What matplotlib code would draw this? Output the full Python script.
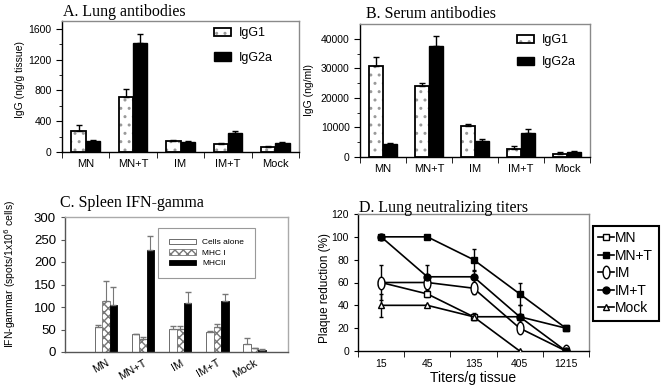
import matplotlib
matplotlib.use('Agg')
import matplotlib.pyplot as plt
import numpy as np
from matplotlib.patches import Patch
from matplotlib.path import Path

plt.rcParams['font.family'] = ['Liberation Sans', 'DejaVu Sans']

# ---- data ----
groups = ['MN', 'MN+T', 'IM', 'IM+T', 'Mock']

lung_igg1 = [275, 710, 140, 100, 65]
lung_igg1_err = [80, 110, 15, 15, 10]
lung_igg2a = [140, 1420, 130, 250, 115]
lung_igg2a_err = [10, 115, 15, 25, 10]

serum_igg1 = [30900, 24000, 10400, 2700, 1000]
serum_igg1_err = [2900, 1100, 900, 1000, 700]
serum_igg2a = [4400, 37700, 5300, 8000, 1800]
serum_igg2a_err = [400, 3400, 700, 1400, 200]

spleen_cells = [56, 39, 51, 44, 18]
spleen_cells_err = [5, 1, 7, 2, 14]
spleen_mhc1 = [114, 30, 51, 55, 8]
spleen_mhc1_err = [43, 4, 7, 7, 2]
spleen_mhc2 = [105, 226, 109, 113, 5]
spleen_mhc2_err = [39, 31, 25, 16, 1]

titers = ['15', '45', '135', '405', '1215']
neut_mn = [60, 50, 30, 30, 20]
neut_mn_err = [0, 3, 3, 0, 0]
neut_mnt = [100, 100, 80, 50, 20]
neut_mnt_err = [0, 0, 9, 10, 0]
neut_im = [60, 60, 55, 20, 0]
neut_im_err = [15, 5, 5, 0, 0]
neut_imt = [100, 65, 65, 30, 0]
neut_imt_err = [0, 10, 5, 10, 0]
neut_mock = [40, 40, 30, 0, np.nan]
neut_mock_err = [10, 0, 0, 0, 0]

W, H = 661, 392
fig = plt.figure(figsize=(W / 100, H / 100), dpi=100)


def rect(left, right, top, bottom):
    return [left / W, 1 - bottom / H, (right - left) / W, (bottom - top) / H]


def frame(ax, dark='black', light='#8a8a8a'):
    for s in ['left', 'bottom']:
        ax.spines[s].set_color(dark)
        ax.spines[s].set_linewidth(1.0)
    for s in ['top', 'right']:
        ax.spines[s].set_color(light)
        ax.spines[s].set_linewidth(1.0)


def title(ax, txt, x, y):
    ax.text(x, y, txt, transform=ax.transAxes, family='Liberation Serif',
            fontsize=11.5, va='baseline', ha='left')


def antibody_panel(ax, v1, e1, v2, e2, ymax, major, minor, ylabel):
    x = np.arange(len(groups))
    w = 0.3
    ax.bar(x - w / 2, v1, w, color='white', edgecolor='#9a9a9a', hatch='..', linewidth=0)
    ax.bar(x - w / 2, v1, w, fill=False, edgecolor='black', linewidth=1.3)
    ax.bar(x + w / 2, v2, w, color='black', edgecolor='black', linewidth=1)
    ax.errorbar(x - w / 2, v1, yerr=[np.zeros(len(v1)), e1], fmt='none',
                ecolor='black', elinewidth=1, capsize=2)
    ax.errorbar(x + w / 2, v2, yerr=[np.zeros(len(v2)), e2], fmt='none',
                ecolor='black', elinewidth=1, capsize=2)
    ax.set_xlim(-0.5, 4.5)
    ax.set_ylim(0, ymax)
    ax.set_yticks(np.arange(0, ymax, major))
    ax.set_yticks(np.arange(0, ymax, minor), minor=True)
    ax.set_xticks(x)
    ax.set_xticklabels(groups, fontsize=8)
    ax.set_xticks(np.arange(-0.5, 5, 1), minor=True)
    ax.tick_params(axis='x', which='major', length=0, pad=5)
    ax.tick_params(axis='x', which='minor', length=4, direction='out')
    ax.tick_params(axis='y', which='major', length=4, labelsize=7.5)
    ax.tick_params(axis='y', which='minor', length=2.5)
    ax.set_ylabel(ylabel, fontsize=7.5)
    frame(ax)
    h1 = (Patch(facecolor='white', edgecolor='#9a9a9a', hatch='..', linewidth=0),
          Patch(fill=False, edgecolor='black', linewidth=1.3))
    h2 = Patch(facecolor='black', edgecolor='black')
    return [h1, h2]


# ---- A. Lung antibodies ----
axA = fig.add_axes(rect(62, 299, 21, 152))
hA = antibody_panel(axA, lung_igg1, lung_igg1_err, lung_igg2a, lung_igg2a_err,
                    1700, 400, 200, 'IgG (ng/g tissue)')
axA.yaxis.set_label_coords(-0.155, 0.55)
axA.legend(hA, ['IgG1', 'IgG2a'], loc='upper left', bbox_to_anchor=(0.62, 0.99),
           frameon=False, fontsize=9, handlelength=1.4, handleheight=0.7,
           labelspacing=1.0, handletextpad=0.6, borderaxespad=0)
title(axA, 'A. Lung antibodies', 0.004, 1.04)

# ---- B. Serum antibodies ----
axB = fig.add_axes(rect(360, 590, 24, 157))
hB = antibody_panel(axB, serum_igg1, serum_igg1_err, serum_igg2a, serum_igg2a_err,
                    45000, 10000, 5000, 'IgG (ng/ml)')
axB.yaxis.set_label_coords(-0.2, 0.5)
axB.legend(hB, ['IgG1', 'IgG2a'], loc='upper left', bbox_to_anchor=(0.66, 0.96),
           frameon=False, fontsize=9, handlelength=1.4, handleheight=0.7,
           labelspacing=0.8, handletextpad=0.6, borderaxespad=0)
title(axB, 'B. Serum antibodies', 0.026, 1.045)

# ---- C. Spleen IFN-gamma ----
axC = fig.add_axes(rect(65, 288, 217, 352))
x = np.arange(len(groups))
w = 0.2
axC.bar(x - w, spleen_cells, w, color='white', edgecolor='#555555', linewidth=0.6,
        label='Cells alone')
axC.bar(x, spleen_mhc1, w, color='white', edgecolor='#777777', hatch='xxxx',
        linewidth=0.6, label='MHC I')
axC.bar(x + w, spleen_mhc2, w, color='black', edgecolor='black', linewidth=0.6,
        label='MHCII')
for off, vals, errs in [(-w, spleen_cells, spleen_cells_err),
                        (0, spleen_mhc1, spleen_mhc1_err),
                        (w, spleen_mhc2, spleen_mhc2_err)]:
    axC.errorbar(x + off, vals, yerr=[np.zeros(len(vals)), errs], fmt='none',
                 ecolor='#777777', elinewidth=0.8, capsize=2)
axC.set_xlim(-1.1, 4.9)
axC.set_ylim(0, 300)
axC.set_yticks(np.arange(0, 301, 50))
axC.set_xticks(x)
axC.set_xticklabels(groups, rotation=30, ha='right', rotation_mode='anchor', fontsize=8)
axC.tick_params(axis='x', length=0, pad=4)
axC.tick_params(axis='y', length=3, labelsize=9.5, color='#555555')
axC.set_ylabel('IFN-gammar (spots/1x10$^6$ cells)', fontsize=7.5)
axC.yaxis.set_label_coords(-0.21, 0.58)
frame(axC, dark='#555555', light='#aaaaaa')
legC = axC.legend(loc='upper right', bbox_to_anchor=(0.852, 0.918), fontsize=6,
                  handlelength=3.2, handleheight=0.6, labelspacing=0.35,
                  borderpad=1.3, borderaxespad=0, fancybox=False, framealpha=1)
legC.get_frame().set_edgecolor('#999999')
legC.get_frame().set_linewidth(0.8)
title(axC, 'C. Spleen IFN-gamma', -0.022, 1.074)

# ---- D. Lung neutralizing titers ----
axD = fig.add_axes(rect(358, 589, 214, 351))
xt = np.arange(len(titers))
circ = Path.unit_circle()
ellipse = Path(circ.vertices * np.array([0.55, 1.0]), circ.codes)
series = [
    ('MN', neut_mn, neut_mn_err, dict(marker='s', mfc='white', ms=5)),
    ('MN+T', neut_mnt, neut_mnt_err, dict(marker='s', mfc='black', ms=5)),
    ('IM', neut_im, neut_im_err, dict(marker=ellipse, mfc='white', ms=9)),
    ('IM+T', neut_imt, neut_imt_err, dict(marker='o', mfc='black', ms=5)),
    ('Mock', neut_mock, neut_mock_err, dict(marker='^', mfc='white', ms=5)),
]
for name, vals, errs, st in series:
    axD.errorbar(xt, vals, yerr=errs, fmt='none', ecolor='black', elinewidth=1,
                 capsize=1.5, zorder=2)
    axD.plot(xt, vals, color='black', lw=1.2, mec='black', mew=1.0, label=name,
             zorder=3, **st)
axD.set_xlim(-0.5, 4.5)
axD.set_ylim(0, 120)
axD.set_yticks(np.arange(0, 121, 20))
axD.set_xticks(xt)
axD.set_xticklabels(titers, fontsize=7.5)
axD.set_xticks(np.arange(-0.5, 5, 1), minor=True)
axD.tick_params(axis='x', which='major', length=0, pad=6)
axD.tick_params(axis='x', which='minor', length=4)
axD.tick_params(axis='y', length=3, labelsize=7.5)
axD.set_xlabel('Titers/g tissue', fontsize=10, labelpad=1)
axD.set_ylabel('Plaque reduction (%)', fontsize=8.5)
axD.yaxis.set_label_coords(-0.115, 0.46)
frame(axD)
legD = axD.legend(loc='upper left', bbox_to_anchor=(1.017, 0.915), fontsize=10,
                  handlelength=1.1, handletextpad=0.1, labelspacing=0.25,
                  borderpad=0.4, borderaxespad=0, fancybox=False, framealpha=1)
legD.get_frame().set_edgecolor('black')
legD.get_frame().set_linewidth(1.5)
title(axD, 'D. Lung neutralizing titers', 0.004, 1.015)

fig.savefig('out.png', dpi=100)
